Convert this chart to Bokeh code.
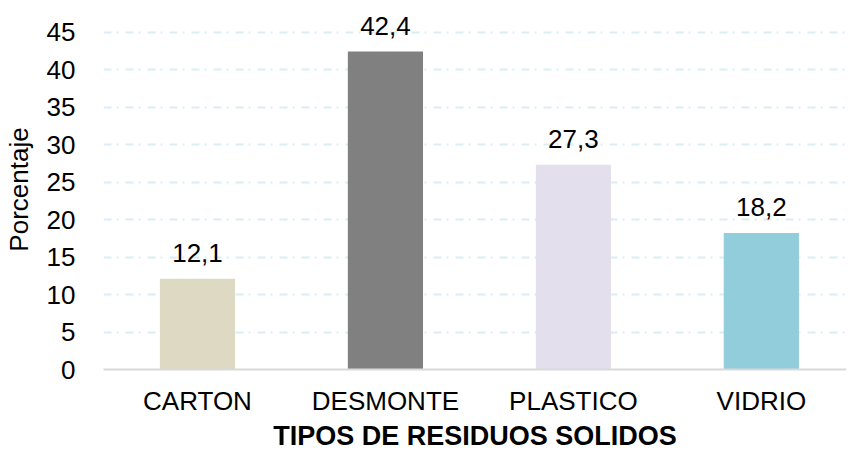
from bokeh.plotting import figure
from bokeh.models import ColumnDataSource, Range1d, FixedTicker, Title
from bokeh.embed import file_html
from bokeh.resources import INLINE

categories = ["CARTON", "DESMONTE", "PLASTICO", "VIDRIO"]
values = [12.1, 42.4, 27.3, 18.2]
colors = ["#DDD9C3", "#808080", "#E4DFEC", "#92CDDC"]
y_ticks = [0, 5, 10, 15, 20, 25, 30, 35, 40, 45]
x_title = "TIPOS DE RESIDUOS SOLIDOS"
y_title = "Porcentaje"

xs = list(range(len(categories)))
labels = [f"{v:.1f}".replace(".", ",") for v in values]
src = ColumnDataSource(dict(x=xs, top=values, color=colors, label=labels))

FONT = "Liberation Sans"
X0, X1 = -0.5, 3.453

p = figure(width=846, height=450, output_backend="svg", toolbar_location=None,
           x_range=Range1d(X0, X1), y_range=Range1d(0, 48),
           min_border_left=95, min_border_right=0, min_border_top=9, min_border_bottom=81)
p.outline_line_color = None
p.background_fill_color = "white"

p.vbar(x="x", top="top", width=0.4, color="color", source=src, line_color=None)
p.text(x="x", y="top", text="label", source=src, text_align="center",
       text_baseline="alphabetic", y_offset=-26, text_font_size="26px",
       text_color="#000000", text_font={"value": FONT})

p.xaxis.ticker = FixedTicker(ticks=xs)
p.xaxis.major_label_overrides = {i: c for i, c in zip(xs, categories)}
p.yaxis.ticker = FixedTicker(ticks=y_ticks)

for ax in (p.xaxis[0], p.yaxis[0]):
    ax.major_tick_line_color = None
    ax.minor_tick_line_color = None
    ax.major_label_text_font = FONT
    ax.major_label_text_font_size = "26px"
    ax.major_label_text_color = "#000000"
    ax.axis_label_text_font = FONT
    ax.axis_label_text_color = "#000000"

p.xaxis.axis_line_color = "#D9D9D9"
p.xaxis.axis_line_width = 2
p.xaxis.major_label_standoff = 10

p.yaxis.axis_line_color = None
p.yaxis.major_label_standoff = 22
p.yaxis.axis_label = y_title
p.yaxis.axis_label_text_font_style = "normal"
p.yaxis.axis_label_text_font_size = "26px"
p.yaxis.axis_label_standoff = 10

p.xgrid.grid_line_color = None
p.ygrid.grid_line_color = "#DAEEF3"
p.ygrid.grid_line_width = 2
p.ygrid.grid_line_dash = "8 5 2 7"

p.add_layout(Title(text=x_title, text_font=FONT, text_font_size="27px",
                   text_font_style="bold", align="center", text_color="#000000",
                   standoff=0, offset=0), "below")

open("out.html", "w").write(file_html(p, INLINE))
